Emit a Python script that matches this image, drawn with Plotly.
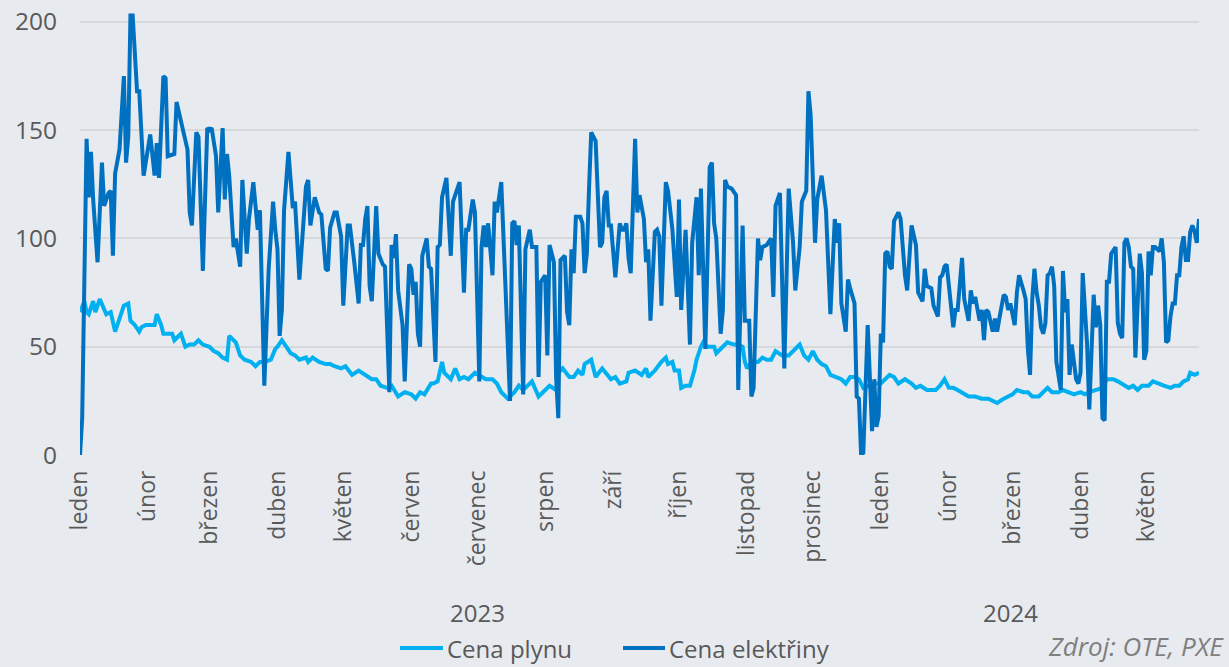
import pandas as pd
import plotly.graph_objects as go

# Daily prices, sampled at the turning points of each series.
# Days are counted from 1 January 2023.
start = pd.Timestamp("2023-01-01")

gas_day = [0, 2, 3, 4, 6, 7, 9, 11, 12, 14, 16, 18, 20, 22, 23, 25, 27, 28, 30, 32, 34, 35, 37, 38, 40,
           42, 43, 46, 48, 50, 52, 54, 56, 59, 61, 63, 65, 67, 68, 71, 73, 75, 78, 80, 82, 84, 87, 89,
           90, 92, 94, 96, 98, 100, 103, 104, 106, 109, 112, 114, 116, 119, 121, 124, 127, 131, 133,
           135, 137, 140, 142, 145, 148, 151, 153, 155, 157, 160, 161, 163, 165, 166, 169, 171, 173,
           175, 177, 180, 182, 185, 188, 190, 192, 195, 198, 200, 202, 205, 206, 209, 212, 214, 217,
           218, 220, 223, 225, 227, 229, 230, 233, 234, 235, 238, 241, 242, 244, 246, 249, 250, 253,
           256, 258, 259, 262, 264, 265, 267, 268, 270, 271, 273, 274, 276, 278, 280, 281, 283, 284,
           286, 287, 289, 290, 292, 293, 295, 298, 300, 302, 303, 304, 306, 309, 311, 313, 315, 317,
           320, 323, 325, 328, 330, 332, 334, 336, 338, 340, 342, 344, 347, 349, 351, 353, 355, 357,
           360, 362, 365, 367, 369, 371, 373, 376, 379, 381, 383, 386, 388, 390, 392, 394, 396, 398,
           400, 403, 405, 408, 411, 414, 416, 418, 421, 423, 425, 427, 430, 432, 434, 437, 439, 441,
           443, 446, 448, 451, 453, 456, 458, 460, 463, 466, 468, 471, 473, 475, 478, 480, 482, 484,
           487, 489, 491, 494, 497, 499, 501, 503, 505, 506, 508, 510]
gas_val = [66, 71, 66, 65, 71, 66, 72, 68, 65, 66, 57, 63, 69, 70, 62, 60, 57, 59, 60, 60, 60, 65, 60, 56, 56,
           56, 53, 56, 50, 51, 51, 53, 51, 50, 48, 47, 45, 44, 55, 52, 46, 44, 43, 41, 43, 43, 44, 49,
           50, 53, 50, 47, 46, 44, 45, 43, 45, 43, 42, 42, 41, 40, 41, 37, 39, 36, 35,
           35, 32, 31, 32, 27, 29, 28, 26, 29, 28, 33, 33, 34, 43, 38, 35, 40, 35,
           36, 35, 38, 37, 35, 35, 33, 29, 26, 29, 32, 30, 33, 34, 27, 30, 32, 30,
           38, 40, 36, 36, 39, 37, 42, 44, 40, 36, 40, 36, 35, 36, 33, 34, 38, 39,
           37, 40, 36, 39, 42, 43, 45, 42, 43, 39, 39, 31, 32, 32, 39, 44, 50, 52,
           50, 50, 50, 47, 49, 50, 52, 51, 51, 50, 43, 40, 43, 43, 45, 44, 44, 48,
           46, 46, 48, 51, 46, 44, 48, 44, 42, 41, 37, 36, 35, 33, 36, 36, 35, 31,
           32, 33, 33, 35, 37, 36, 33, 35, 33, 31, 32, 30, 30, 30, 32, 35, 31, 31,
           30, 28, 27, 27, 26, 26, 25, 24, 26, 27, 28, 30, 29, 29, 27, 27, 29, 31,
           29, 29, 30, 29, 28, 29, 28, 29, 30, 31, 35, 35, 34, 33, 31, 32, 30, 32,
           32, 34, 33, 32, 31, 32, 32, 34, 35, 38, 37, 38]

elec_day = [0, 1, 3, 4, 5, 6, 8, 10, 11, 13, 14, 15, 16, 18, 20, 21, 22, 23, 24, 26, 27, 29, 32, 34, 35,
            36, 38, 39, 40, 42, 43, 44, 47, 49, 50, 51, 53, 54, 56, 58, 59, 60, 62, 63, 65, 66, 67, 68,
            70, 71, 73, 74, 76, 77, 79, 81, 82, 84, 86, 88, 89, 90, 91, 92, 93, 95, 97, 98, 100, 103,
            104, 105, 107, 109, 110, 112, 113, 114, 116, 117, 119, 120, 122, 123, 125, 127, 128, 129,
            130, 131, 132, 133, 135, 136, 138, 139, 141, 142, 143, 144, 145, 147, 148, 150, 151, 152,
            153, 154, 155, 156, 158, 159, 160, 162, 163, 164, 165, 167, 169, 170, 173, 175, 176, 177,
            179, 180, 182, 183, 184, 185, 186, 188, 189, 190, 192, 193, 195, 196, 197, 198, 199, 200,
            202, 203, 205, 206, 208, 209, 210, 212, 213, 214, 216, 217, 218, 219, 221, 222, 223, 224,
            225, 226, 228, 229, 230, 231, 232, 233, 235, 237, 238, 239, 240, 241, 242, 244, 246, 247,
            248, 249, 250, 251, 253, 254, 255, 257, 258, 259, 260, 262, 263, 264, 265, 267, 268, 270,
            272, 273, 274, 276, 278, 279, 281, 282, 283, 285, 287, 288, 289, 290, 292, 293, 294, 295,
            297, 299, 300, 302, 303, 305, 306, 307, 309, 310, 311, 313, 315, 316, 317, 319, 321, 323,
            325, 326, 328, 329, 331, 332, 333, 335, 336, 338, 340, 342, 344, 345, 346, 347, 349, 350,
            351, 353, 354, 355, 356, 357, 359, 360, 361, 362, 363, 364, 365, 366, 367, 368, 369, 370,
            371, 373, 374, 376, 377, 379, 381, 382, 384, 385, 386, 388, 389, 391, 392, 393, 394, 395,
            397, 398, 399, 400, 402, 403, 405, 406, 407, 408, 410, 411, 412, 413, 414, 416, 417, 418,
            419, 421, 422, 423, 424, 426, 427, 428, 430, 431, 432, 433, 434, 435, 436, 437, 438, 439,
            440, 441, 442, 443, 444, 445, 447, 448, 449, 450, 451, 452, 454, 455, 456, 457, 459, 460,
            462, 463, 464, 465, 466, 467, 468, 469, 470, 472, 473, 474, 475, 476, 477, 478, 479, 480,
            481, 483, 484, 485, 486, 487, 488, 489, 490, 492, 493, 494, 495, 496, 497, 498, 499, 500,
            501, 502, 503, 504, 505, 506, 507, 508, 509, 510]
elec_val = [0, 17, 146, 119, 140, 118, 89, 135, 115, 121, 122, 92, 130, 141, 175, 135, 147, 203, 203, 168, 168, 129, 148, 129, 144,
            128, 175, 174, 138, 139, 139, 163, 150, 141, 112, 106, 149, 147, 85, 151, 150, 151, 138, 112, 151, 118, 139, 129,
            96, 100, 87, 127, 93, 109, 126, 104, 113, 32, 86, 117, 104, 95, 55, 67, 113, 140, 114, 117, 81, 124,
            127, 106, 119, 112, 111, 86, 85, 105, 112, 112, 101, 69, 106, 106, 89, 70, 97, 97,
            109, 115, 78, 71, 115, 93, 88, 87, 29, 97, 91, 102, 76, 60, 34, 88, 86, 74,
            80, 56, 50, 92, 100, 87, 86, 43, 96, 97, 119, 128, 92, 117, 126, 75, 104, 104,
            118, 112, 34, 96, 106, 96, 107, 83, 117, 112, 126, 100, 44, 25, 107, 108, 97, 106,
            28, 95, 104, 96, 96, 36, 80, 83, 46, 97, 89, 36, 17, 90, 92, 66, 60, 95,
            84, 110, 110, 107, 84, 93, 123, 149, 145, 96, 98, 119, 122, 106, 106, 82, 107, 104,
            104, 107, 91, 84, 146, 112, 120, 109, 89, 95, 62, 103, 104, 101, 69, 126, 122, 104,
            73, 118, 67, 104, 51, 98, 119, 83, 123, 49, 133, 135, 107, 100, 56, 67, 127, 124,
            123, 120, 30, 106, 62, 62, 27, 31, 100, 90, 96, 97, 100, 73, 115, 121, 40, 123,
            98, 76, 96, 117, 122, 168, 157, 98, 118, 129, 113, 65, 109, 98, 107, 70, 57, 81,
            77, 70, 27, 26, 0, 1, 60, 36, 11, 35, 13, 18, 56, 52, 93, 94, 87, 86,
            108, 112, 109, 83, 76, 106, 97, 75, 71, 86, 78, 77, 69, 64, 82, 83, 87, 88,
            70, 59, 67, 67, 91, 72, 62, 76, 70, 73, 62, 67, 53, 67, 66, 57, 63, 57,
            63, 74, 73, 67, 70, 60, 75, 83, 76, 72, 49, 37, 72, 86, 75, 69, 59, 56,
            61, 83, 84, 87, 78, 43, 30, 85, 66, 72, 37, 51, 35, 33, 38, 84, 51, 21,
            74, 59, 69, 60, 17, 16, 80, 80, 93, 96, 61, 56, 54, 98, 100, 96, 87, 86,
            45, 93, 84, 44, 48, 94, 83, 96, 96, 94, 100, 89, 52, 53, 64, 70, 70, 83,
            83, 96, 101, 90, 90, 103, 106, 103, 98, 109]

month_ticks = pd.date_range("2023-01-01", "2024-05-01", freq="MS")
month_labels = ["leden", "únor", "březen", "duben", "květen", "červen", "červenec", "srpen",
                "září", "říjen", "listopad", "prosinec",
                "leden", "únor", "březen", "duben", "květen"]
year_labels = ["2023", "2024"]
y_ticks = [0, 50, 100, 150, 200]
series_names = ["Cena plynu", "Cena elektřiny"]
series_colors = ["#00b0f0", "#0070c0"]

gas_dates = start + pd.to_timedelta(gas_day, unit="D")
elec_dates = start + pd.to_timedelta(elec_day, unit="D")

FONT = "Open Sans, Segoe UI, sans-serif"
TEXT = "#595959"
BG = "#e7eaee"

# Plot area geometry in pixels, used to place the legend and labels below it
W, H = 1229, 667
ML, MR, MT, MB = 80, 30, 10, 212
PW, PH = W - ML - MR, H - MT - MB


def px_x(px):
    return (px - ML) / PW


def px_y(py):
    return (H - MB - py) / PH


fig = go.Figure()
fig.add_trace(go.Scatter(x=gas_dates, y=gas_val, mode="lines", name=series_names[0],
                         line=dict(color=series_colors[0], width=4)))
fig.add_trace(go.Scatter(x=elec_dates, y=elec_val, mode="lines", name=series_names[1],
                         line=dict(color=series_colors[1], width=4)))

fig.update_layout(
    width=W, height=H,
    margin=dict(l=ML, r=MR, t=MT, b=MB, autoexpand=False),
    paper_bgcolor=BG, plot_bgcolor=BG,
    font=dict(family=FONT, size=24, color=TEXT),
    showlegend=False,
    xaxis=dict(type="date", range=[start, elec_dates[-1]], automargin=False,
               tickmode="array", tickvals=month_ticks, ticktext=month_labels,
               tickangle=-90, tickfont=dict(size=23, color=TEXT),
               showgrid=False, zeroline=False, showline=False, ticks="",
               ticklabelstandoff=10),
    yaxis=dict(range=[0, 205.5], tickmode="array", tickvals=y_ticks, automargin=False,
               tickfont=dict(size=24.5, color=TEXT),
               showgrid=True, gridcolor="#d6d8da", gridwidth=2,
               zeroline=False, showline=False, ticks="", ticklabelstandoff=22),
)

# Year group labels under the month ticks
for label, px in zip(year_labels, [477, 1010]):
    fig.add_annotation(text=label, xref="paper", yref="paper", x=px_x(px), y=px_y(612),
                       showarrow=False, font=dict(size=24, color=TEXT),
                       xanchor="center", yanchor="middle")

# Legend: coloured line sample followed by the series name
legend_y = px_y(648)
for name, color, (lx0, lx1) in zip(series_names, series_colors, [(400, 443), (623, 665)]):
    fig.add_shape(type="line", xref="paper", yref="paper",
                  x0=px_x(lx0), x1=px_x(lx1), y0=legend_y, y1=legend_y,
                  line=dict(color=color, width=4))
    fig.add_annotation(text=name, xref="paper", yref="paper", x=px_x(lx1 + 2), y=legend_y,
                       showarrow=False, font=dict(size=24, color=TEXT),
                       xanchor="left", yanchor="middle")

fig.add_annotation(text="<i>Zdroj: OTE, PXE</i>", xref="paper", yref="paper",
                   x=px_x(1226), y=px_y(646), showarrow=False,
                   font=dict(size=26, color="#7f7f7f"), xanchor="right", yanchor="middle")

fig.write_html("out.html")
